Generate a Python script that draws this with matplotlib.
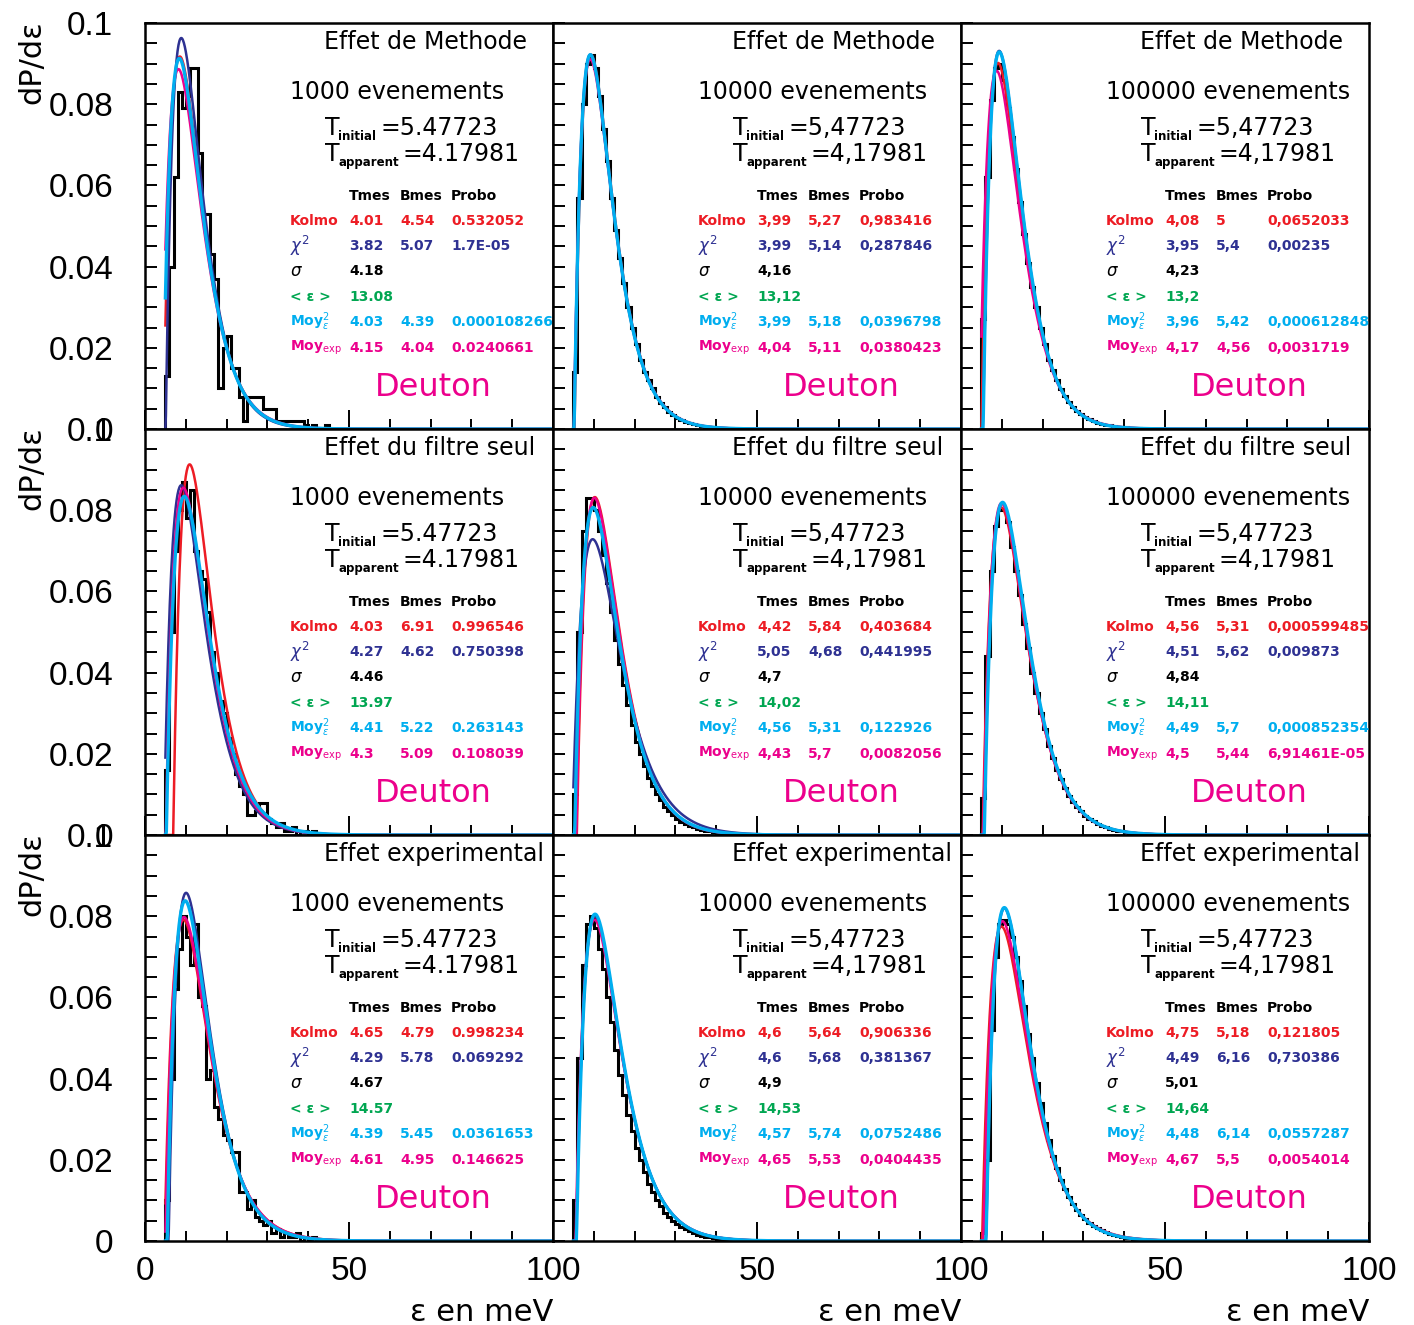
import numpy as np
import matplotlib.pyplot as plt


TITLES = ["Effet de Methode", "Effet du filtre seul", "Effet experimental"]
EVENTS = ["1000", "10000", "100000"]
T_INITIAL = "5.47723"
T_APPARENT = "4.17981"

# fit results, rows = effect, columns = number of events
KOLMO_T = [[4.01, 3.99, 4.08], [4.03, 4.42, 4.56], [4.65, 4.6, 4.75]]
KOLMO_B = [[4.54, 5.27, 5], [6.91, 5.84, 5.31], [4.79, 5.64, 5.18]]
KOLMO_P = [[0.532052, 0.983416, 0.0652033], [0.996546, 0.403684, 0.000599485],
           [0.998234, 0.906336, 0.121805]]

CHI2_T = [[3.82, 3.99, 3.95], [4.27, 5.05, 4.51], [4.29, 4.6, 4.49]]
CHI2_B = [[5.07, 5.14, 5.4], [4.62, 4.68, 5.62], [5.78, 5.68, 6.16]]
CHI2_P = [[1.7e-05, 0.287846, 0.00235], [0.750398, 0.441995, 0.009873],
          [0.069292, 0.381367, 0.730386]]

SIGMA = [[4.18, 4.16, 4.23], [4.46, 4.7, 4.84], [4.67, 4.9, 5.01]]
MEAN_E = [[13.08, 13.12, 13.2], [13.97, 14.02, 14.11], [14.57, 14.53, 14.64]]

MOYE2_T = [[4.03, 3.99, 3.96], [4.41, 4.56, 4.49], [4.39, 4.57, 4.48]]
MOYE2_B = [[4.39, 5.18, 5.42], [5.22, 5.31, 5.7], [5.45, 5.74, 6.14]]
MOYE2_P = [[0.000108266, 0.0396798, 0.000612848], [0.263143, 0.122926, 0.000852354],
           [0.0361653, 0.0752486, 0.0557287]]

MOYEXP_T = [[4.15, 4.04, 4.17], [4.3, 4.43, 4.5], [4.61, 4.65, 4.67]]
MOYEXP_B = [[4.04, 5.11, 4.56], [5.09, 5.7, 5.44], [4.95, 5.53, 5.5]]
MOYEXP_P = [[0.0240661, 0.0380423, 0.0031719], [0.108039, 0.0082056, 6.91461e-05],
            [0.146625, 0.0404435, 0.0054014]]

# histogram contents (units of 1e-3), one bin per meV starting at 5 meV
HIST_METHODE_1000 = [13, 40, 62, 83, 79, 82, 89, 89, 68, 53, 53, 43, 37, 10, 20, 23, 15,
                     15, 8, 2, 8, 8, 8, 8, 5, 5, 5, 2, 2, 2, 2, 2, 2, 2, 1, 0, 1, 0, 0, 1]
HIST_METHODE_10000 = [14, 57, 80, 90, 92, 89, 82, 74, 66, 57, 49, 42, 36, 30, 25, 21, 17,
                      14, 12, 10, 8, 6.5, 5.3, 4.3, 3.5, 2.8, 2.3, 1.8, 1.5, 1.2, 1.0, 0.8,
                      0.6, 0.5, 0.4, 0.3, 0.3, 0.2, 0.2, 0.1, 0.1]
HIST_METHODE_100000 = [27, 62, 81, 89, 90, 86, 79, 72, 64, 56, 48, 41, 35, 30, 25, 21,
                       17, 14.5, 12, 9.9, 8.1, 6.7, 5.5, 4.5, 3.7, 3.0, 2.4, 2.0, 1.6, 1.3,
                       1.1, 0.9, 0.7, 0.6, 0.5, 0.4, 0.3, 0.2, 0.2, 0.1]
HIST_FILTRE_1000 = [16, 50, 70, 80, 87, 78, 85, 70, 65, 63, 55, 45, 40, 33, 30, 24, 20,
                    15, 12, 10, 5, 5, 6, 8, 8, 4, 3, 2, 3, 1, 1, 2, 0, 1, 1, 0, 1]
HIST_FILTRE_10000 = [10, 50, 75, 83, 83, 80, 75, 69, 62, 55, 48, 42, 37, 32, 27, 23, 20, 17,
                     14, 12, 10, 8.5, 7, 6, 5, 4, 3.3, 2.8, 2.3, 1.9, 1.6, 1.3, 1.1, 0.9,
                     0.7, 0.6, 0.5, 0.4, 0.3, 0.3, 0.2]
HIST_FILTRE_100000 = [9, 44, 65, 76, 80, 80, 77, 71, 65, 59, 52, 46, 40, 35, 30, 26, 22,
                      19, 16, 13.7, 11.5, 9.7, 8.2, 6.9, 5.8, 4.8, 4.0, 3.4, 2.8, 2.3, 1.9,
                      1.6, 1.3, 1.1, 0.9, 0.8, 0.6, 0.5, 0.4, 0.3]
HIST_EXP_1000 = [10, 40, 62, 72, 80, 75, 68, 78, 60, 58, 40, 42, 33, 30, 26, 25, 22, 22,
                 12, 12, 8, 10, 6, 5, 4, 5, 2, 3, 1, 2, 1, 1, 2, 0, 1, 0, 1]
HIST_EXP_10000 = [10, 45, 68, 78, 80, 77, 72, 67, 60, 54, 47, 41, 36, 31, 27, 23, 20, 17, 14,
                  12, 10, 8.5, 7, 6, 5, 4.2, 3.5, 2.9, 2.4, 2.0, 1.6, 1.3, 1.1, 0.9, 0.7,
                  0.6, 0.5, 0.4, 0.3, 0.3, 0.2]
HIST_EXP_100000 = [2, 20, 52, 70, 78, 79, 78, 75, 70, 64, 58, 51, 45, 39, 34, 29, 25, 21,
                   18, 15, 12.8, 10.8, 9.1, 7.7, 6.4, 5.4, 4.5, 3.8, 3.1, 2.6, 2.2, 1.8,
                   1.5, 1.2, 1.0, 0.8, 0.7, 0.6, 0.5, 0.4]

HISTS = [[HIST_METHODE_1000, HIST_METHODE_10000, HIST_METHODE_100000],
         [HIST_FILTRE_1000, HIST_FILTRE_10000, HIST_FILTRE_100000],
         [HIST_EXP_1000, HIST_EXP_10000, HIST_EXP_100000]]
HIST_START = 5

RED = "#ed1c24"
NAVY = "#2e3192"
GREEN = "#00a651"
CYAN = "#00aeef"
PINK = "#ec008c"

plt.rcParams["mathtext.fontset"] = "dejavusans"


def fit_curve(x, t, b):
    u = np.clip(x - b, 0, None)
    return u / t ** 2 * np.exp(-u / t)


def fmt(value, sep):
    return f"{value:g}".upper().replace(".", sep)


fig = plt.figure(figsize=(14.14, 13.25), dpi=100)

W, H = 1414.0, 1325.0
left0, top0, pw, ph = 145, 23, 408, 406

for r in range(3):
    for c in range(3):
        left = (left0 + c * pw) / W
        bottom = 1 - (top0 + (r + 1) * ph) / H
        ax = fig.add_axes([left, bottom, pw / W, ph / H])

        hist = np.array(HISTS[r][c]) * 1e-3
        edges = np.arange(HIST_START, HIST_START + len(hist) + 1)
        ax.stairs(hist, edges, color="black", lw=2.2, baseline=0)

        x = np.linspace(HIST_START, 100, 800)
        ax.plot(x, fit_curve(x, KOLMO_T[r][c], KOLMO_B[r][c]), color=RED, lw=1.8)
        ax.plot(x, fit_curve(x, CHI2_T[r][c], CHI2_B[r][c]), color=NAVY, lw=1.8)
        ax.plot(x, fit_curve(x, MOYEXP_T[r][c], MOYEXP_B[r][c]), color=PINK, lw=1.8)
        ax.plot(x, fit_curve(x, MOYE2_T[r][c], MOYE2_B[r][c]), color=CYAN, lw=2.4)

        ax.set_xlim(0, 100)
        ax.set_ylim(0, 0.1)
        for s in ax.spines.values():
            s.set_linewidth(1.8)

        ax.set_yticks([0, 0.02, 0.04, 0.06, 0.08, 0.1])
        ax.set_yticks(np.arange(0, 0.1, 0.005), minor=True)
        ax.set_xticks([0, 50, 100])
        ax.set_xticks(np.arange(0, 101, 10), minor=True)
        ax.tick_params(which="both", direction="in", top=False, right=False, width=1.4)
        ax.tick_params(axis="y", which="both", length=8.5)
        ax.tick_params(axis="x", which="major", length=14)
        ax.tick_params(axis="x", which="minor", length=7)

        if c == 0:
            ax.set_yticklabels(["0", "0.02", "0.04", "0.06", "0.08", "0.1"],
                               family="Liberation Sans", fontsize=24)
            ax.tick_params(axis="y", pad=23)
            ax.text(-0.277, 1.007, "dP/dε", rotation=90, ha="center", va="top",
                    fontsize=22, transform=ax.transAxes)
        else:
            ax.set_yticklabels([])

        if r == 2:
            labels = ["0", "50", "100"] if c == 0 else ["", "50", "100"]
            ax.set_xticklabels(labels, family="Liberation Sans", fontsize=24)
            ax.tick_params(axis="x", pad=11)
            ax.text(1.0, -0.175, "ε en meV", ha="right", va="center", fontsize=22,
                    transform=ax.transAxes)
        else:
            ax.set_xticklabels([])

        sep = "." if c == 0 else ","
        tr = ax.transAxes
        ax.text(0.439, 0.953, TITLES[r], ha="left", va="center", fontsize=17, transform=tr)
        ax.text(0.355, 0.830, EVENTS[c] + " evenements", ha="left", va="center",
                fontsize=17, transform=tr)

        # T lines: big T, small bold subscript, then the value
        ax.text(0.441, 0.724, "T", ha="left", va="baseline", fontsize=17, transform=tr)
        ax.text(0.474, 0.712, "initial", ha="left", va="baseline", fontsize=8.5,
                fontweight="bold", transform=tr)
        ax.text(0.576, 0.724, "=" + T_INITIAL.replace(".", sep), ha="left",
                va="baseline", fontsize=17, transform=tr)
        ax.text(0.441, 0.661, "T", ha="left", va="baseline", fontsize=17, transform=tr)
        ax.text(0.474, 0.649, "apparent", ha="left", va="baseline", fontsize=8.5,
                fontweight="bold", transform=tr)
        ax.text(0.630, 0.661, "=" + T_APPARENT.replace(".", sep), ha="left",
                va="baseline", fontsize=17, transform=tr)

        cols = [0.355, 0.5, 0.625, 0.75]
        rows_y = [0.574, 0.512, 0.451, 0.389, 0.325, 0.264, 0.2]
        table = [
            ("black", ["", "Tmes", "Bmes", "Probo"]),
            (RED, ["Kolmo", fmt(KOLMO_T[r][c], sep), fmt(KOLMO_B[r][c], sep),
                   fmt(KOLMO_P[r][c], sep)]),
            (NAVY, [r"$\chi^2$", fmt(CHI2_T[r][c], sep), fmt(CHI2_B[r][c], sep),
                    fmt(CHI2_P[r][c], sep)]),
            ("black", [r"$\sigma$", fmt(SIGMA[r][c], sep), "", ""]),
            (GREEN, ["< ε >", fmt(MEAN_E[r][c], sep), "", ""]),
            (CYAN, [r"Moy$_\varepsilon^2$", fmt(MOYE2_T[r][c], sep), fmt(MOYE2_B[r][c], sep),
                    fmt(MOYE2_P[r][c], sep)]),
            (PINK, [r"Moy$_{\rm exp}$", fmt(MOYEXP_T[r][c], sep), fmt(MOYEXP_B[r][c], sep),
                    fmt(MOYEXP_P[r][c], sep)]),
        ]
        for (color, cells), yy in zip(table, rows_y):
            for k, (txt, xx) in enumerate(zip(cells, cols)):
                if txt:
                    size = 12 if (k == 0 and txt.startswith("$")) else 10
                    ax.text(xx, yy, txt, color=color, ha="left", va="center",
                            fontsize=size, fontweight="bold", transform=tr)

        ax.text(0.564, 0.101, "Deuton", color=PINK, ha="left", va="center",
                fontsize=23, transform=tr)

fig.savefig("out.png", dpi=100)
